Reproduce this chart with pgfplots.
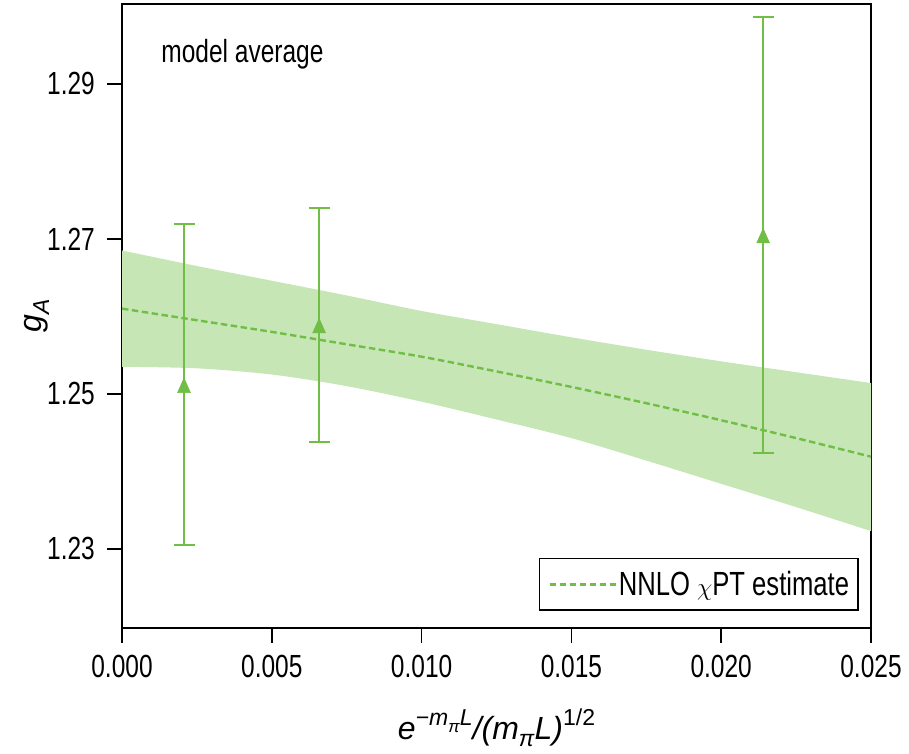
\documentclass[border=0pt]{standalone}
\usepackage{pgfplots}
\pgfplotsset{compat=1.18}
\usepgfplotslibrary{fillbetween}
\usepackage{fontspec}
\setmainfont{Liberation Sans}[FakeStretch=0.765]
\newfontfamily\lsans{Liberation Sans}
\definecolor{lgreen}{RGB}{112,190,70}
\definecolor{bandc}{RGB}{198,230,181}
\newcommand{\bigf}{\fontsize{32}{38}\selectfont}
\begin{document}
\begin{tikzpicture}
\begin{axis}[
  scale only axis, width=749pt, height=624pt,
  xmin=0, xmax=0.025, ymin=1.2198, ymax=1.3003,
  axis line style={line width=2pt},
  xtick={0,0.005,0.01,0.015,0.02,0.025},
  ytick={1.23,1.25,1.27,1.29},
  scaled x ticks=false, scaled y ticks=false,
  tick align=outside, xtick pos=bottom, ytick pos=left,
  major tick length=15pt,
  every tick/.style={black, line width=1.6pt},
  /pgf/number format/assume math mode=true,
  tick label style={font=\bigf},
  xticklabel style={inner sep=0pt, yshift=-12pt, /pgf/number format/fixed,/pgf/number format/fixed zerofill,/pgf/number format/precision=3},
  yticklabel style={inner sep=0pt, xshift=-12pt, /pgf/number format/fixed,/pgf/number format/fixed zerofill,/pgf/number format/precision=2},
  label style={font=\bigf\lsans},
  xlabel={\textit{e}\raisebox{0.42em}{\fontsize{23}{23}\selectfont\textit{−m}\raisebox{-0.28em}{\fontsize{17}{17}\selectfont\textit{π}}\textit{L}}\textit{/(m}\raisebox{-0.22em}{\fontsize{23}{23}\selectfont\textit{π}}\textit{L)}\raisebox{0.42em}{\fontsize{23}{23}\selectfont 1/2}},
  xlabel style={at={(axis description cs:0.5,0)}, anchor=base, yshift=-111pt, inner sep=0pt},
  ylabel={\textit{g}\raisebox{-0.22em}{\fontsize{23}{23}\selectfont\textit{A}}},
  ylabel style={at={(axis description cs:0,0.5)}, anchor=base, yshift=80pt, inner sep=0pt},
  legend style={at={(axis description cs:0.984,0.027)}, anchor=south east, draw=black, line width=1.8pt, font=\fontsize{33.5}{38}\selectfont, inner xsep=9pt, inner ysep=13pt, nodes={inner sep=0pt}},
  legend cell align=left,
  legend image code/.code={\draw[#1] (0pt,0pt) -- (52pt,0pt); \path (0pt,0pt) -- (68pt,0pt);},
]
\addplot[name path=upper, draw=none, smooth, forget plot] coordinates {
(0.0000,1.2685) (0.0025,1.2665) (0.0050,1.2646) (0.0075,1.2627) (0.0100,1.2607)
(0.0125,1.2590) (0.0150,1.2573) (0.0175,1.2557) (0.0200,1.2542) (0.0225,1.2528) (0.0250,1.2514)
};
\addplot[name path=lower, draw=none, smooth, forget plot] coordinates {
(0.0000,1.2535) (0.0025,1.2533) (0.0050,1.2525) (0.0075,1.2510) (0.0100,1.2490)
(0.0125,1.2467) (0.0150,1.2443) (0.0175,1.2414) (0.0200,1.2384) (0.0225,1.2354) (0.0250,1.2323)
};
\addplot[fill=bandc, draw=none, forget plot] fill between[of=upper and lower];
\addplot[lgreen, line width=2.4pt, dash pattern=on 6.5pt off 3.5pt, smooth] coordinates {
(0.0000,1.2610) (0.0025,1.2595) (0.0050,1.2580) (0.0075,1.2564) (0.0100,1.2548)
(0.0125,1.2529) (0.0150,1.2509) (0.0175,1.2488) (0.0200,1.2466) (0.0225,1.2443) (0.0250,1.2419)
};
\addlegendentry{NNLO $\chi$PT estimate}
\addplot[lgreen, only marks, mark=triangle*, mark size=7.5pt,
  mark options={fill=lgreen, draw=lgreen, yscale=1.3, yshift=-2.4pt},
  error bars/.cd, y dir=both, y explicit,
  error bar style={line width=1.8pt, lgreen},
  error mark options={lgreen, line width=1.8pt, mark size=10.5pt, rotate=90}]
coordinates {
(0.00207,1.2512) +- (0,0.0207)
(0.00658,1.2589) +- (0,0.0151)
(0.02140,1.2705) +- (0,0.0281)
};
\node[anchor=base west, font=\bigf] at (axis cs:0.0012,1.2928) {model average};
\end{axis}
\path ([xshift=-122pt,yshift=-125pt]current axis.south west) rectangle ([xshift=38pt,yshift=4pt]current axis.north east);
\end{tikzpicture}
\end{document}
